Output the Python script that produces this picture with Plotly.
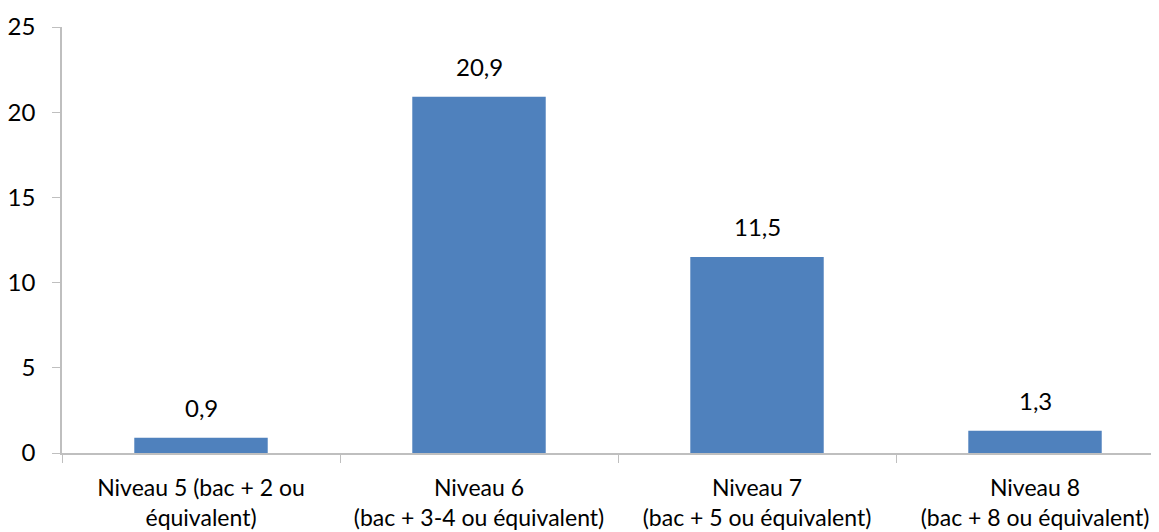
import plotly.graph_objects as go

categories = [
    "Niveau 5 (bac + 2 ou<br>équivalent)",
    "Niveau 6<br>(bac + 3-4 ou équivalent)",
    "Niveau 7<br>(bac + 5 ou équivalent)",
    "Niveau 8<br>(bac + 8 ou équivalent)",
]
values = [0.9, 20.9, 11.5, 1.3]
labels = ["0,9", "20,9", "11,5", "1,3"]

fig = go.Figure()
fig.add_trace(go.Bar(x=categories, y=values, marker=dict(color="#4F81BD", line=dict(width=0)),
                     hoverinfo="skip"))

# data labels above the bars
for c, v, t in zip(categories, values, labels):
    fig.add_annotation(x=c, y=v, text=t, showarrow=False, yanchor="bottom", yshift=14,
                       font=dict(size=24, color="#000000"))

# page body adds ~8px margin, so the figure is a bit smaller than the window
fig.update_layout(
    width=1151, height=524,
    margin=dict(l=54, r=0, t=19, b=79),
    paper_bgcolor="white", plot_bgcolor="white",
    font=dict(family="Lato, Open Sans, sans-serif", size=24, color="#000000"),
    bargap=0.52,
    showlegend=False,
)
fig.update_xaxes(
    range=[-0.5, 3.446], automargin=False,
    showline=True, linecolor="#BFBFBF", linewidth=1.5,
    ticks="outside", tickson="boundaries", ticklen=8, tickcolor="#BFBFBF",
    ticklabelstandoff=14, tickfont=dict(size=23),
    showgrid=False, tickangle=0,
)
fig.update_yaxes(
    range=[0, 25], tickvals=[0, 5, 10, 15, 20, 25], automargin=False,
    showline=True, linecolor="#BFBFBF", linewidth=1.5,
    ticks="outside", ticklen=8, tickcolor="#BFBFBF",
    ticklabelstandoff=12,
    showgrid=False, zeroline=False,
)

fig.write_html("out.html")
